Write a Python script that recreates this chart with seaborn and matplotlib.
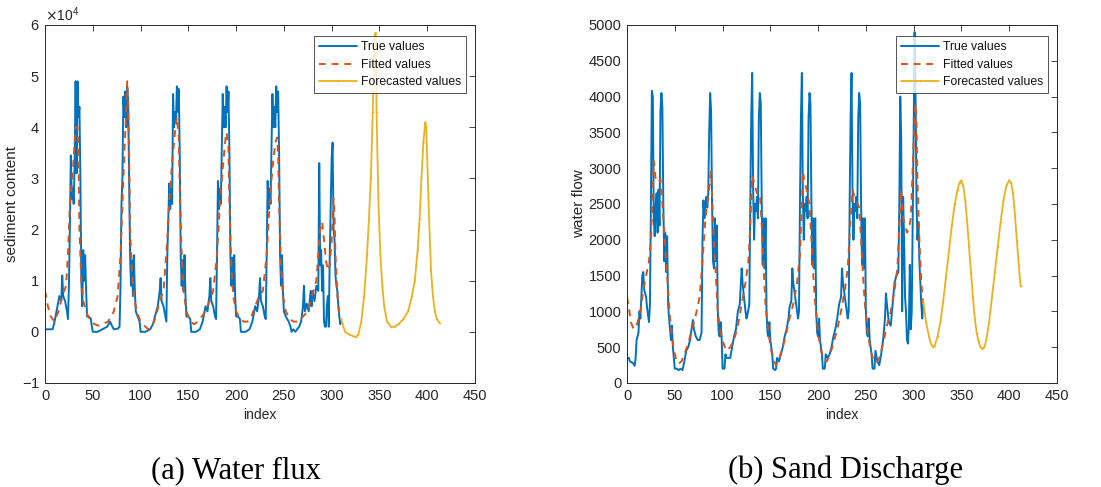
import matplotlib
matplotlib.use("Agg")
import matplotlib.pyplot as plt
import numpy as np
import seaborn as sns

sns.set_style("white")
plt.rcParams['font.family'] = ['Liberation Sans', 'DejaVu Sans']
plt.rcParams['axes.unicode_minus'] = False

# ---- (a) sediment content, values in units of 1e4 ----
a_true_x = [0, 8, 10, 13, 15, 17, 18, 19, 21, 23, 24, 25, 26, 27, 28, 29, 30, 31, 32, 33, 34, 35, 36, 37, 38, 39,
            40, 41, 42, 43, 44, 46, 48, 49, 50, 55, 60, 65, 68, 70, 72, 76, 78, 79, 80, 81, 82, 83, 84, 85, 86, 87,
            88, 89, 90, 91, 92, 93, 94, 95, 97, 99, 100, 105, 110, 113, 115, 118, 120, 121, 122, 124, 126, 127, 128,
            130, 131, 132, 133, 134, 135, 136, 137, 138, 139, 140, 141, 142, 143, 144, 145, 146, 147, 148, 150, 152,
            153, 158, 162, 165, 168, 170, 172, 173, 174, 176, 178, 179, 180, 181, 182, 183, 184, 186, 187, 188, 189,
            190, 191, 192, 193, 194, 195, 196, 197, 198, 199, 200, 202, 204, 205, 210, 214, 217, 220, 222, 224, 225,
            226, 228, 230, 231, 232, 233, 234, 235, 236, 238, 239, 240, 241, 242, 243, 244, 245, 246, 247, 248, 249,
            250, 252, 255, 257, 258, 260, 262, 264, 266, 268, 270, 271, 272, 274, 276, 278, 279, 280, 282, 284, 286,
            287, 288, 289, 290, 291, 292, 293, 294, 295, 296, 297, 298, 300, 301, 302, 303, 304, 305, 306, 307, 308,
            309, 310]
a_true_y = [0.05, 0.05, 0.2, 0.5, 0.7, 0.6, 1.1, 0.7, 0.6, 0.4, 0.25, 0.9, 2.0, 3.45, 2.6, 2.8, 2.5, 3.3, 4.9, 3.1,
            4.9, 4.2, 4.4, 3.0, 1.0, 0.5, 1.6, 1.0, 1.5, 0.8, 0.3, 0.3, 0.25, 0.1, 0.0, 0.0, 0.05, 0.1, 0.2, 0.12,
            0.05, 0.06, 0.1, 0.9, 2.5, 3.0, 4.6, 4.2, 4.7, 4.0, 4.8, 4.5, 3.0, 1.5, 0.9, 1.4, 0.7, 1.5, 0.8, 0.4,
            0.3, 0.2, 0.0, 0.0, 0.05, 0.15, 0.3, 0.5, 0.8, 1.05, 0.6, 0.5, 0.3, 0.2, 1.5, 2.9, 2.4, 2.8, 2.5, 4.65,
            4.0, 4.3, 4.1, 4.8, 4.3, 4.75, 3.5, 1.5, 0.9, 1.4, 0.8, 1.5, 0.7, 0.3, 0.3, 0.25, 0.0, 0.0, 0.05, 0.2,
            0.5, 0.4, 0.7, 1.05, 0.6, 0.5, 0.3, 0.25, 1.5, 2.95, 2.4, 2.8, 2.5, 4.65, 4.0, 4.4, 4.0, 4.8, 4.3, 4.7,
            3.5, 1.5, 0.9, 1.45, 0.8, 1.5, 0.7, 0.3, 0.3, 0.25, 0.0, 0.0, 0.05, 0.2, 0.5, 0.4, 0.7, 1.05, 0.6, 0.5,
            0.3, 0.25, 1.5, 2.95, 2.4, 2.8, 2.5, 4.65, 4.0, 4.4, 4.0, 4.8, 4.3, 4.7, 3.5, 1.5, 0.9, 1.5, 0.8, 0.4,
            0.3, 0.2, 0.1, 0.0, 0.05, 0.0, 0.05, 0.1, 0.2, 0.5, 0.9, 0.4, 0.55, 0.4, 0.8, 0.5, 0.8, 0.6, 0.9, 0.8,
            3.3, 1.3, 1.6, 0.8, 1.3, 0.2, 0.1, 0.1, 0.5, 0.7, 0.1, 1.5, 3.4, 3.7, 2.0, 1.8, 1.1, 0.9, 0.8, 0.5, 0.3,
            0.15, 0.2]

a_fit_x = [0, 3, 6, 10, 14, 18, 22, 24, 26, 28, 30, 32, 34, 35, 36, 38, 40, 44, 48, 52, 56, 60, 66, 72, 76, 79, 81,
           83, 85, 86, 87, 88, 89, 91, 93, 96, 100, 104, 108, 112, 116, 120, 124, 128, 130, 133, 136, 138, 140, 141,
           143, 145, 148, 152, 156, 160, 164, 168, 172, 176, 180, 183, 186, 189, 190, 192, 193, 195, 197, 200, 204,
           208, 212, 216, 220, 224, 228, 232, 235, 238, 241, 243, 244, 245, 247, 249, 252, 256, 260, 265, 270, 275,
           278, 281, 284, 286, 288, 290, 292, 294, 296, 298, 300, 302, 303, 304, 306, 308, 310]
a_fit_y = [0.8, 0.5, 0.3, 0.2, 0.4, 0.7, 0.9, 1.5, 2.5, 2.9, 3.4, 4.0, 4.0, 3.5, 2.0, 1.0, 0.6, 0.35, 0.2, 0.15,
           0.12, 0.15, 0.2, 0.4, 0.7, 1.5, 2.5, 3.5, 4.3, 4.9, 4.5, 3.5, 2.0, 1.2, 0.7, 0.4, 0.2, 0.12, 0.05, 0.1,
           0.3, 0.6, 0.8, 1.8, 2.5, 3.3, 3.9, 4.2, 3.8, 2.8, 1.5, 0.8, 0.4, 0.2, 0.15, 0.2, 0.3, 0.4, 0.6, 0.8, 1.5,
           2.5, 3.2, 3.8, 3.9, 3.6, 2.5, 1.3, 0.7, 0.4, 0.25, 0.2, 0.2, 0.3, 0.5, 0.7, 0.8, 1.5, 2.5, 3.2, 3.7, 3.8,
           3.5, 2.5, 1.3, 0.7, 0.4, 0.25, 0.2, 0.2, 0.3, 0.4, 0.6, 0.8, 1.0, 1.5, 2.0, 2.15, 1.8, 1.4, 1.2, 1.3, 1.8,
           2.6, 2.3, 1.5, 0.7, 0.35, 0.25]

a_fc_x = [310, 314, 318, 322, 325, 328, 331, 334, 337, 339, 341, 343, 345, 346, 347, 349, 351, 353, 355, 358, 362,
          366, 370, 375, 380, 384, 387, 390, 392, 394, 396, 398, 399, 400, 402, 404, 406, 408, 410, 413]
a_fc_y = [0.25, 0.0, -0.05, -0.08, -0.1, -0.05, 0.2, 0.7, 1.5, 2.2, 3.0, 4.3, 5.8, 5.85, 4.3, 2.5, 1.5, 0.9, 0.5,
          0.2, 0.1, 0.1, 0.15, 0.25, 0.4, 0.7, 1.0, 1.6, 2.2, 3.0, 3.7, 4.1, 4.0, 3.4, 2.2, 1.2, 0.7, 0.4, 0.25,
          0.17]

# ---- (b) water flow ----
b_true_x = [0, 2, 3, 6, 8, 9, 10, 11, 12, 13, 14, 15, 16, 17, 18, 19, 20, 21, 22, 23, 24, 25, 26, 27, 28, 29, 30,
            31, 32, 33, 34, 35, 36, 37, 38, 39, 40, 41, 42, 43, 44, 46, 47, 48, 49, 50, 52, 54, 56, 58, 60, 62, 64,
            66, 68, 69, 70, 72, 74, 76, 78, 79, 80, 81, 82, 83, 84, 85, 86, 87, 88, 89, 90, 91, 92, 93, 94, 95, 96,
            97, 98, 99, 100, 102, 103, 104, 106, 108, 110, 112, 114, 116, 118, 120, 121, 122, 124, 125, 126, 128,
            129, 130, 131, 132, 133, 134, 135, 136, 137, 138, 139, 140, 141, 142, 143, 144, 145, 146, 147, 148, 149,
            150, 152, 153, 155, 156, 157, 159, 161, 163, 165, 167, 169, 170, 172, 173, 174, 176, 178, 179, 180, 181,
            182, 183, 184, 185, 186, 187, 188, 189, 190, 191, 192, 193, 194, 195, 196, 197, 198, 199, 200, 201, 202,
            204, 205, 207, 208, 210, 212, 214, 216, 218, 220, 222, 224, 225, 226, 228, 230, 231, 232, 233, 234, 235,
            236, 237, 238, 239, 240, 241, 242, 243, 244, 245, 246, 247, 248, 249, 250, 251, 252, 253, 254, 256, 257,
            259, 260, 262, 264, 266, 268, 270, 271, 272, 274, 276, 278, 280, 282, 284, 285, 286, 287, 288, 289, 290,
            291, 292, 293, 294, 295, 296, 297, 298, 300, 301, 302, 303, 304, 305, 306, 307, 308, 309, 310]
b_true_y = [350, 350, 300, 280, 240, 350, 600, 650, 700, 1000, 900, 1200, 1500, 1550, 1300, 1250, 1200, 1050, 950,
            850, 1100, 2500, 4080, 4000, 2300, 2050, 2500, 2650, 2100, 2700, 2200, 3800, 4050, 3850, 2500, 1700,
            2100, 1550, 2050, 1100, 900, 600, 800, 500, 350, 200, 200, 180, 200, 180, 300, 450, 500, 600, 800, 880,
            750, 650, 600, 600, 700, 2000, 2550, 2300, 2500, 2600, 2450, 2650, 3500, 4050, 3800, 2500, 1700, 1600,
            2300, 1700, 2200, 1000, 700, 650, 850, 650, 200, 200, 400, 350, 350, 350, 500, 650, 750, 1000, 1100,
            1600, 1400, 1250, 1000, 900, 950, 1100, 2500, 3700, 4330, 2700, 2000, 2500, 2400, 2600, 2300, 3700,
            4050, 3900, 2500, 1650, 2300, 1600, 2300, 1000, 700, 650, 850, 600, 400, 200, 180, 200, 350, 300, 400,
            500, 650, 750, 900, 1050, 1150, 1600, 1400, 1200, 1000, 900, 1000, 2500, 3700, 4330, 2700, 2000, 2500,
            2400, 2600, 2300, 3700, 4050, 3900, 2500, 1650, 2300, 1600, 2300, 1000, 700, 650, 900, 600, 400, 200,
            200, 400, 350, 400, 500, 650, 750, 900, 1100, 1200, 1600, 1400, 1200, 1000, 900, 1000, 2500, 3700, 4330,
            2700, 2000, 2500, 2400, 2600, 2300, 3700, 4050, 3900, 2500, 1650, 2300, 1600, 2300, 1000, 700, 650, 900,
            600, 400, 200, 200, 450, 300, 250, 400, 600, 900, 1250, 1100, 850, 800, 1100, 1400, 1500, 1550, 2500,
            4000, 3400, 1000, 2600, 2000, 1200, 1000, 600, 550, 800, 1650, 750, 1000, 3500, 4900, 4000, 2500, 2000,
            2250, 1700, 1400, 1100, 900, 1100]

b_fit_x = [0, 2, 4, 7, 10, 14, 17, 20, 23, 25, 27, 28, 30, 33, 35, 37, 39, 41, 43, 45, 48, 51, 54, 57, 60, 64, 68,
           72, 76, 79, 82, 85, 87, 88, 89, 91, 93, 95, 98, 101, 104, 108, 112, 116, 120, 124, 127, 129, 131, 133,
           136, 139, 141, 143, 145, 148, 151, 154, 156, 158, 162, 166, 170, 174, 178, 181, 183, 184, 186, 188, 191,
           193, 195, 197, 200, 203, 206, 209, 212, 216, 220, 224, 228, 231, 234, 236, 238, 240, 243, 245, 247, 249,
           252, 255, 258, 261, 264, 268, 272, 276, 280, 283, 285, 287, 289, 291, 293, 295, 297, 299, 301, 302, 303,
           304, 306, 308, 310]
b_fit_y = [1200, 1050, 850, 750, 800, 1000, 1300, 1500, 1700, 2000, 2700, 3100, 2850, 2800, 2850, 2500, 2100, 1700,
           1300, 900, 550, 350, 270, 300, 400, 550, 750, 950, 1200, 1700, 2300, 2600, 2850, 2950, 2600, 2000, 1500,
           1000, 700, 550, 450, 500, 600, 800, 1100, 1400, 1700, 2200, 2900, 2800, 2650, 2650, 2200, 1600, 1100,
           700, 450, 300, 250, 300, 450, 650, 900, 1100, 1400, 1800, 2500, 2950, 2800, 2700, 2500, 2000, 1500, 1100,
           700, 450, 330, 300, 380, 550, 750, 1000, 1300, 1600, 2300, 2700, 2600, 2550, 2450, 2000, 1500, 1100, 700,
           450, 320, 280, 350, 550, 800, 1000, 1300, 1600, 2200, 2700, 2300, 2200, 2100, 2150, 2300, 3000, 3700,
           3900, 3600, 2800, 2000, 1400, 1100]

b_fc_x = [310, 313, 316, 318, 320, 322, 325, 328, 331, 334, 337, 340, 343, 346, 348, 350, 352, 354, 356, 358, 360,
          362, 364, 366, 368, 370, 372, 374, 376, 379, 382, 385, 388, 391, 394, 397, 400, 402, 404, 406, 408, 410,
          412]
b_fc_y = [1150, 850, 650, 550, 500, 520, 650, 850, 1150, 1500, 1850, 2200, 2500, 2700, 2800, 2830, 2750, 2550, 2250,
          1900, 1550, 1200, 900, 700, 580, 500, 480, 500, 600, 850, 1200, 1550, 1900, 2250, 2550, 2750, 2830, 2800,
          2650, 2350, 2000, 1650, 1350]

c_true = '#0072BD'
c_fit = '#D95319'
c_fc = '#EDB120'
frame = '#262626'

fig = plt.figure(figsize=(11.01, 4.87), dpi=100)
ax1 = fig.add_axes([0.0409, 0.2136, 0.3905, 0.7351])
ax2 = fig.add_axes([0.5695, 0.2136, 0.3905, 0.7351])

panels = [
    (ax1, a_true_x, np.array(a_true_y) * 1e4, a_fit_x, np.array(a_fit_y) * 1e4, a_fc_x, np.array(a_fc_y) * 1e4),
    (ax2, b_true_x, b_true_y, b_fit_x, b_fit_y, b_fc_x, b_fc_y),
]

for ax, tx, ty, fx, fy, cx, cy in panels:
    sns.lineplot(x=tx, y=ty, ax=ax, color=c_true, linewidth=1.4, label='True values')
    sns.lineplot(x=fx, y=fy, ax=ax, color=c_fit, linewidth=1.4, linestyle=(0, (3.5, 3)), label='Fitted values')
    sns.lineplot(x=cx, y=cy, ax=ax, color=c_fc, linewidth=1.3, marker='.', markersize=2.5,
                 markeredgewidth=0, label='Forecasted values')
    ax.set_xlim(0, 450)
    ax.set_xticks(range(0, 451, 50))
    ax.set_xlabel('index', fontsize=10, color=frame)
    ax.tick_params(direction='in', top=True, right=True, length=4, width=0.6,
                   labelsize=10.5, colors=frame, pad=4)
    for s in ax.spines.values():
        s.set_color(frame)
        s.set_linewidth(0.7)
    leg = ax.legend(loc='upper right', bbox_to_anchor=(0.98, 0.968), fontsize=8.8, frameon=True,
                    fancybox=False, handlelength=3.1, handletextpad=0.35, borderpad=0.4,
                    labelspacing=0.45, borderaxespad=0)
    leg.get_frame().set_edgecolor(frame)
    leg.get_frame().set_linewidth(0.7)
    for t in leg.get_texts():
        t.set_color('#111111')

ax1.set_ylim(-1e4, 6e4)
ax1.set_yticks(np.arange(-1e4, 6.1e4, 1e4))
ax1.ticklabel_format(axis='y', style='sci', scilimits=(4, 4), useMathText=True)
ax1.yaxis.get_offset_text().set_fontsize(10)
ax1.set_ylabel('sediment content', fontsize=11, color=frame, labelpad=2)

ax2.set_ylim(0, 5000)
ax2.set_yticks(range(0, 5001, 500))
ax2.set_ylabel('water flow', fontsize=11, color=frame, labelpad=2)

fig.text(0.2145, 0.018, '(a) Water flux', family='Liberation Serif', fontsize=22, ha='center',
         va='baseline', color='black')
fig.text(0.7675, 0.018, '(b) Sand Discharge', family='Liberation Serif', fontsize=22, ha='center',
         va='baseline', color='black')

fig.savefig('out.png', dpi=100)
